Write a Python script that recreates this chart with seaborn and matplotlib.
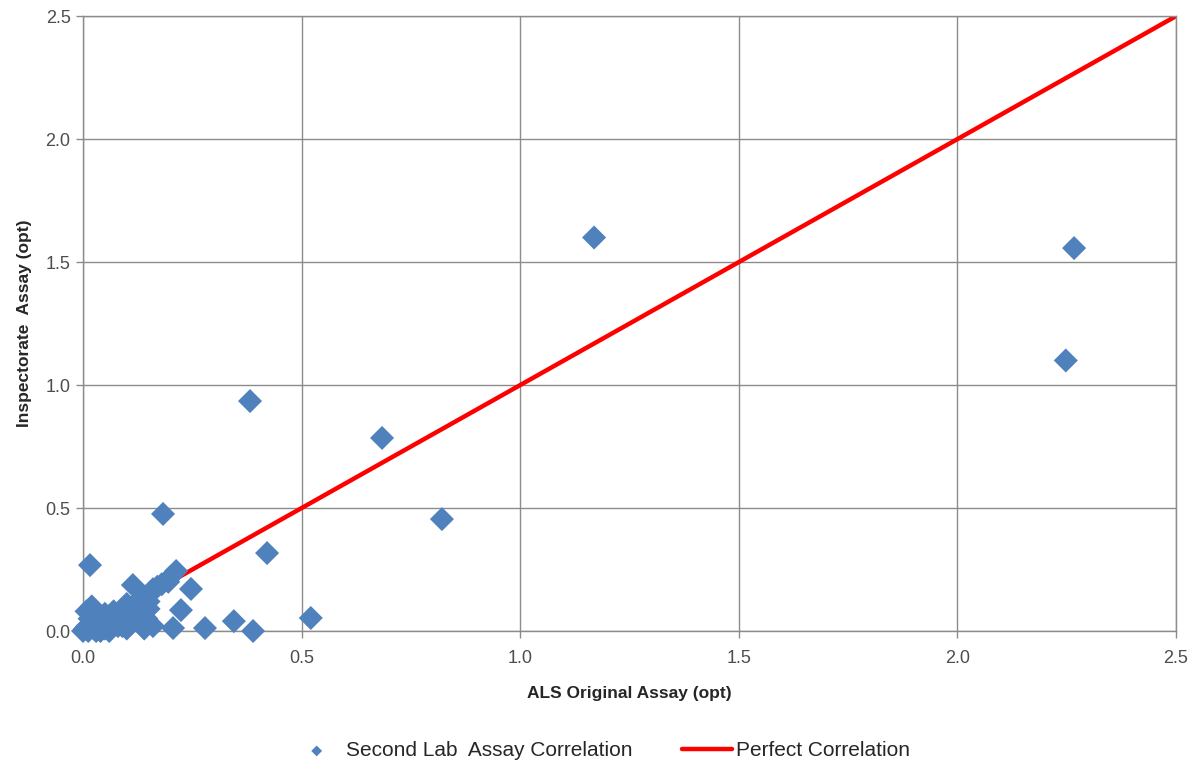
import matplotlib
matplotlib.use("Agg")
import matplotlib.pyplot as plt
import seaborn as sns
import pandas as pd
import numpy as np

sns.set_style("white")
plt.rcParams['font.family'] = ['Liberation Sans', 'DejaVu Sans']

# Second lab assay correlation points (ALS original, Inspectorate)
als_x = [2.267, 2.248, 1.169, 0.684, 0.821, 0.382, 0.421, 0.521, 0.389, 0.345,
         0.279, 0.183, 0.016, 0.247, 0.224, 0.213, 0.206, 0.114,
         0.000, 0.005, 0.010, 0.012, 0.015, 0.020, 0.020, 0.025, 0.030, 0.030,
         0.035, 0.040, 0.045, 0.050, 0.050, 0.055, 0.060, 0.065, 0.070, 0.075,
         0.080, 0.085, 0.090, 0.095, 0.100, 0.100, 0.105, 0.110, 0.115, 0.120,
         0.125, 0.130, 0.135, 0.140, 0.145, 0.150, 0.160, 0.160, 0.170, 0.180,
         0.195, 0.200, 0.060, 0.080, 0.140, 0.008, 0.040, 0.150, 0.110, 0.090]
insp_y = [1.557, 1.100, 1.600, 0.785, 0.455, 0.935, 0.317, 0.053, 0.000, 0.040,
          0.012, 0.476, 0.268, 0.171, 0.085, 0.244, 0.012, 0.187,
          0.000, 0.010, 0.020, 0.000, 0.050, 0.100, 0.030, 0.010, 0.040, 0.000,
          0.060, 0.020, 0.050, 0.070, 0.010, 0.040, 0.060, 0.030, 0.080, 0.050,
          0.070, 0.040, 0.090, 0.060, 0.010, 0.110, 0.070, 0.050, 0.100, 0.080,
          0.120, 0.060, 0.100, 0.140, 0.050, 0.120, 0.020, 0.170, 0.180, 0.190,
          0.200, 0.220, 0.000, 0.020, 0.010, 0.080, 0.000, 0.090, 0.030, 0.020]

# Perfect correlation line
line_x = [0.0, 2.5]
line_y = [0.0, 2.5]

ticks = [0.0, 0.5, 1.0, 1.5, 2.0, 2.5]
tick_labels = ["0.0", "0.5", "1.0", "1.5", "2.0", "2.5"]

df_pts = pd.DataFrame({"x": als_x, "y": insp_y})
df_line = pd.DataFrame({"x": line_x, "y": line_y})

fig = plt.figure(figsize=(11.98, 7.70), dpi=100)
ax = fig.add_axes([0.0693, 0.1805, 0.9123, 0.7985])

sns.lineplot(data=df_line, x="x", y="y", ax=ax, color="#FF0000", linewidth=3.2,
             zorder=2, label="Perfect Correlation")
sns.scatterplot(data=df_pts, x="x", y="y", ax=ax, marker="D", s=150,
                color="#4F81BD", edgecolor="none", zorder=3, linewidth=0,
                clip_on=False, label="Second Lab  Assay Correlation")

ax.set_xlim(0, 2.5)
ax.set_ylim(0, 2.5)
ax.set_xticks(ticks)
ax.set_xticklabels(tick_labels)
ax.set_yticks(ticks)
ax.set_yticklabels(tick_labels)
ax.grid(True, color="#8C8C8C", linewidth=1.0)
ax.set_axisbelow(True)
for s in ax.spines.values():
    s.set_color("#8C8C8C")
    s.set_linewidth(1.0)
ax.tick_params(axis="both", labelsize=13, length=5, direction="out",
               left=True, bottom=True, width=1, pad=4, colors="#8C8C8C")
ax.tick_params(axis="x", pad=9)
for lab in ax.get_xticklabels() + ax.get_yticklabels():
    lab.set_color("#4D4D4D")
ax.set_xlabel("ALS Original Assay (opt)", fontsize=12.5, fontweight="bold",
              labelpad=13)
ax.set_ylabel("Inspectorate  Assay (opt)", fontsize=12.5, fontweight="bold",
              labelpad=10)

handles, labels = ax.get_legend_handles_labels()
order = [1, 0]
leg = ax.legend([handles[i] for i in order], [labels[i] for i in order],
                loc="center", bbox_to_anchor=(0.474, -0.195), ncol=2,
                frameon=False, fontsize=15, handlelength=2.4,
                columnspacing=2.4, markerscale=0.45, handletextpad=0.2)
for t in leg.get_texts():
    t.set_color("#262626")

fig.savefig("out.png", dpi=100)
